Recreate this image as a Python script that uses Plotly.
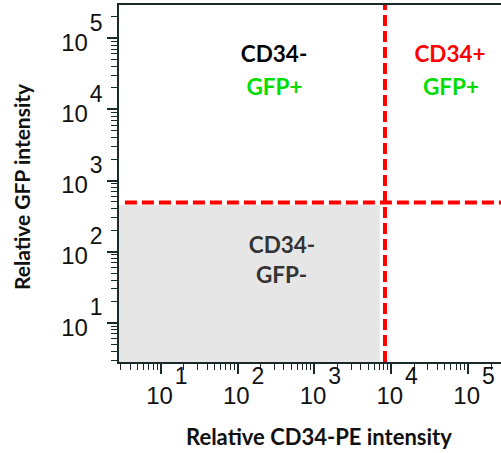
import plotly.graph_objects as go

# ---- data ----
tick_vals = [10, 100, 1000, 10000, 100000]
tick_exps = ["1", "2", "3", "4", "5"]
minor_vals = [d * 10 ** k for k in range(0, 6) for d in range(2, 10)]

x_range_log = [0.4545, 5.43]
y_range_log = [0.451, 5.466]

gate_cd34 = 8300      # vertical gate (CD34-PE)
gate_gfp = 490        # horizontal gate (GFP)
fill_cd34 = 7080      # extent of grey quadrant
fill_gfp = 457

quad_labels = ["CD34-", "GFP+", "CD34+", "GFP+", "CD34-", "GFP-"]
quad_x = [298, 302, 58400, 60000, 378, 373]
quad_y = [56000, 18800, 56000, 18800, 117, 44]
quad_colors = ["#000000", "#00dd00", "#ff0000", "#00dd00", "#333333", "#333333"]

x_title = "Relative CD34-PE intensity"
y_title = "Relative GFP intensity"

tick_text = [
    "<span style='font-size:24px'>10</span><sup><sup><sup>"
    "<span style='font-size:23px'>&#8202;%s</span></sup></sup></sup>" % e
    for e in tick_exps
]

fig = go.Figure()

# grey CD34-/GFP- quadrant
fig.add_trace(go.Scatter(
    x=[1, fill_cd34, fill_cd34, 1, 1],
    y=[1, 1, fill_gfp, fill_gfp, 1],
    fill="toself", fillcolor="#e6e6e6", mode="lines",
    line=dict(width=0), hoverinfo="skip", showlegend=False))

# gates
fig.add_trace(go.Scatter(
    x=[gate_cd34, gate_cd34], y=[1, 1e6], mode="lines",
    line=dict(color="#ff0000", width=4, dash="11px,5px"),
    hoverinfo="skip", showlegend=False))
fig.add_trace(go.Scatter(
    x=[3.4, 1e6], y=[gate_gfp, gate_gfp], mode="lines",
    line=dict(color="#ff0000", width=4, dash="12px,5px"),
    hoverinfo="skip", showlegend=False))

# quadrant labels
fig.add_trace(go.Scatter(
    x=quad_x, y=quad_y, mode="text", text=quad_labels,
    textfont=dict(family="Lato", size=22.5, color=quad_colors, weight="bold"),
    hoverinfo="skip", showlegend=False))

axis_common = dict(
    type="log", showgrid=False, zeroline=False,
    showline=True, linecolor="#1a2a2a", linewidth=2,
    ticks="outside", ticklen=10, tickwidth=1.5, tickcolor="#1a2a2a",
    tickmode="array", tickvals=tick_vals, ticktext=tick_text,
    tickfont=dict(family="Liberation Sans", size=22, color="#111111"),
    minor=dict(tickmode="array", tickvals=minor_vals, ticks="outside",
               ticklen=6, tickwidth=1.2, tickcolor="#1a2a2a", showgrid=False),
)

fig.update_layout(
    width=501, height=453, autosize=False,
    margin=dict(l=119, r=0, t=5, b=91),
    plot_bgcolor="white", paper_bgcolor="white",
    xaxis=dict(range=x_range_log, mirror=True, ticklabelshift=6,
               ticklabelstandoff=4, **axis_common),
    yaxis=dict(range=y_range_log, ticklabelshift=5, **axis_common),
    annotations=[
        dict(text=x_title, xref="paper", yref="paper", x=0.5236, y=-0.2087,
             xanchor="center", yanchor="middle", showarrow=False,
             font=dict(family="Lato", size=22, color="#111111", weight="bold")),
        dict(text=y_title, xref="paper", yref="paper", x=-0.2565, y=0.49,
             xanchor="center", yanchor="middle", showarrow=False, textangle=-90,
             font=dict(family="Lato", size=21, color="#111111", weight="bold")),
    ],
)

fig.write_html("out.html", config={"displayModeBar": False},
               post_script="document.body.style.margin='0';")
